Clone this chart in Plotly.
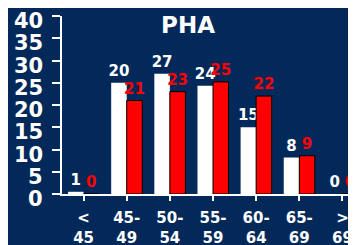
import plotly.graph_objects as go

categories = ["&lt;<br>45", "45-<br>49", "50-<br>54", "55-<br>59", "60-<br>64", "65-<br>69", "&gt;<br>69"]
white_values = [0.5, 25, 27, 24.3, 15, 8.2, 0]
white_labels = ["1", "20", "27", "24", "15", "8", "0"]
red_values = [0, 21, 23, 25.2, 22, 8.6, 0]
red_labels = ["0", "21", "23", "25", "22", "9", "0"]
y_ticks = [0, 5, 10, 15, 20, 25, 30, 35, 40]

BG = "#03295a"
FONT = "DejaVu Sans"

fig = go.Figure()
fig.add_trace(go.Bar(
    x=list(range(len(categories))), y=white_values, text=white_labels,
    textposition="outside", cliponaxis=False,
    marker=dict(color="white", line=dict(width=0)),
    textfont=dict(color="white", size=15, family=FONT, weight="bold"),
))
fig.add_trace(go.Bar(
    x=list(range(len(categories))), y=red_values, text=red_labels,
    textposition="outside", cliponaxis=False,
    marker=dict(color="#ff0000", line=dict(color="black", width=1)),
    textfont=dict(color="#ff0000", size=15, family=FONT, weight="bold"),
))

# y tick labels drawn slightly below their ticks, as in the reference
for v in y_ticks:
    fig.add_annotation(
        x=0, xref="paper", y=v, yref="y", text=str(v), showarrow=False,
        xanchor="right", yanchor="middle", xshift=-17, yshift=-5,
        font=dict(color="white", size=21, family=FONT, weight="bold"),
    )

fig.update_layout(
    width=356, height=245,
    margin=dict(l=54, r=0, t=8, b=59),
    paper_bgcolor=BG, plot_bgcolor=BG,
    showlegend=False,
    barmode="group", bargap=0.28, bargroupgap=0,
    uniformtext=dict(mode="show", minsize=15),
    title=dict(text="<b>PHA</b>", x=180 / 356, xref="container", xanchor="center",
               y=1 - 17 / 245, yref="container", yanchor="middle",
               font=dict(color="white", size=23, family=FONT)),
    xaxis=dict(
        range=[-0.5, 6.5], tickmode="array", automargin=False,
        tickvals=list(range(len(categories))), ticktext=categories,
        tickson="boundaries", ticks="outside", ticklen=5, tickwidth=2, tickcolor="white",
        showline=True, linecolor="white", linewidth=2, showgrid=False, zeroline=False,
        tickfont=dict(color="white", size=15, family=FONT, weight="bold"),
        ticklabelstandoff=4, ticklabeloverflow="allow",
        fixedrange=True,
    ),
    yaxis=dict(
        range=[0, 40], tickmode="array", tickvals=y_ticks, automargin=False,
        ticks="outside", ticklen=8, tickwidth=2, tickcolor="white",
        showline=True, linecolor="white", linewidth=2, showgrid=False, zeroline=False,
        showticklabels=False,
        fixedrange=True,
    ),
)

fig.write_html("out.html")
